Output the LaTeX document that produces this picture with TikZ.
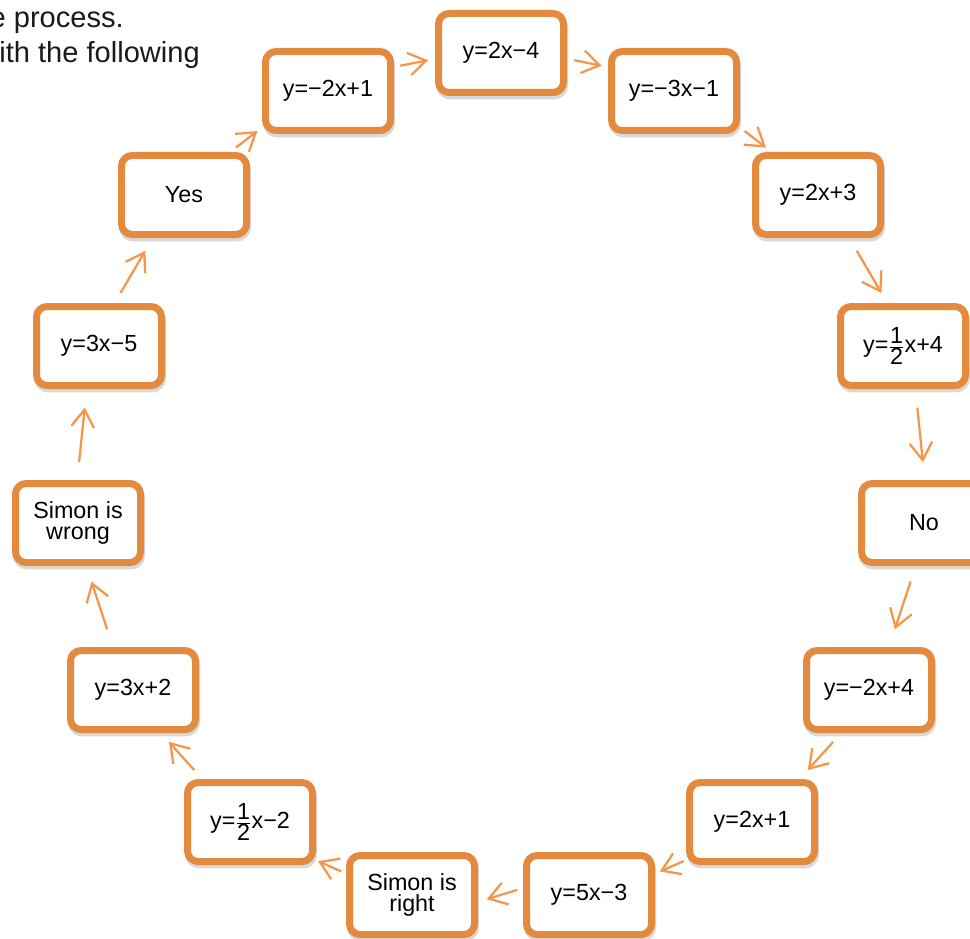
\documentclass[tikz,border=0pt]{standalone}
\usepackage{fontspec}
\setmainfont{Liberation Sans}
\usepackage{xcolor}
\usetikzlibrary{arrows.meta,shadows}
\definecolor{RingOrange}{HTML}{E38A3F}
\definecolor{LinkOrange}{HTML}{F5964A}
\definecolor{IntroInk}{HTML}{1A1A1A}
\newcommand{\halfnum}{$\frac{\mbox{1}}{\mbox{2}}$}
\tikzset{
  ringbox/.style={draw=RingOrange,line width=5.25pt,rounded corners=2.8mm,fill=white,align=center,minimum width=93.75pt,minimum height=59.25pt,inner sep=2pt,font=\fontsize{17.5}{16.3}\selectfont,drop shadow={shadow xshift=0.8pt,shadow yshift=-2.6pt,opacity=0.25,fill=black!60,draw=black!60}},
  ringarrow/.style={-{Straight Barb[length=13pt,width=17pt]},line width=1.7pt,draw=LinkOrange},
  introtext/.style={anchor=base east,inner sep=0pt,text=IntroInk,font=\fontsize{21.8}{26}\selectfont}
}
\begin{document}
\begin{tikzpicture}[x=0.75pt,y=-0.75pt]
\useasboundingbox (0,0) rectangle (970,938);
% instruction lines, cut at the left edge
\node[introtext] (intro1) at (124,28) {e process.};
\node[introtext] (intro2) at (200,63) {ith the following};
% ring of boxes
\node[ringbox] (e2xm4) at (501,53) {y=2x−4};
\node[ringbox] (em3xm1) at (674,91) {y=−3x−1};
\node[ringbox] (e2xp3) at (818,195) {y=2x+3};
\node[ringbox] (ehalfp4) at (903,346) {y=\halfnum x+4};
\node[ringbox] (no) at (924,523) {No};
\node[ringbox] (em2xp4) at (869,690) {y=−2x+4};
\node[ringbox] (e2xp1) at (752,822) {y=2x+1};
\node[ringbox] (e5xm3) at (589,895) {y=5x−3};
\node[ringbox] (simonright) at (412,895) {Simon is\\right};
\node[ringbox] (ehalfm2) at (250,822) {y=\halfnum x−2};
\node[ringbox] (e3xp2) at (133,690) {y=3x+2};
\node[ringbox] (simonwrong) at (78,523) {Simon is\\wrong};
\node[ringbox] (e3xm5) at (99,346) {y=3x−5};
\node[ringbox] (yes) at (184,195) {Yes};
\node[ringbox] (em2xp1) at (328,91) {y=−2x+1};
% arrows round the ring
\draw[ringarrow,shorten <=4.8pt,shorten >=5.3pt] (em2xp1.20) -- (e2xm4.185);
\draw[ringarrow,shorten <=5.3pt,shorten >=4.8pt] (e2xm4.-5) -- (em3xm1.160);
\draw[ringarrow,shorten <=4.3pt,shorten >=5.5pt] (em3xm1.-29) -- (e2xp3.137);
\draw[ringarrow,shorten <=11.1pt,shorten >=8.8pt] (e2xp3.-54) -- (ehalfp4.110);
\draw[ringarrow,shorten <=14pt,shorten >=13.5pt] (ehalfp4.-74) -- (no.89);
\draw[ringarrow,shorten <=12.2pt,shorten >=14pt] (no.-101) -- (em2xp4.65);
\draw[ringarrow,shorten <=8.9pt,shorten >=9pt] (em2xp4.-123) -- (e2xp1.42);
\draw[ringarrow,shorten <=1.7pt,shorten >=3.9pt] (e2xp1.210) -- (e5xm3.18);
\draw[ringarrow,shorten <=4.5pt,shorten >=6.8pt] (e5xm3.174) -- (simonright.-6);
\draw[ringarrow,shorten <=3.9pt,shorten >=1.7pt] (simonright.162) -- (ehalfm2.-30);
\draw[ringarrow,shorten <=9pt,shorten >=8.9pt] (ehalfm2.138) -- (e3xp2.-57);
\draw[ringarrow,shorten <=14pt,shorten >=12.2pt] (e3xp2.115) -- (simonwrong.-79);
\draw[ringarrow,shorten <=13.5pt,shorten >=14pt] (simonwrong.91) -- (e3xm5.-106);
\draw[ringarrow,shorten <=8.8pt,shorten >=11.1pt] (e3xm5.70) -- (yes.234);
\draw[ringarrow,shorten <=5.5pt,shorten >=4.3pt] (yes.43) -- (em2xp1.209);
\end{tikzpicture}
\end{document}
